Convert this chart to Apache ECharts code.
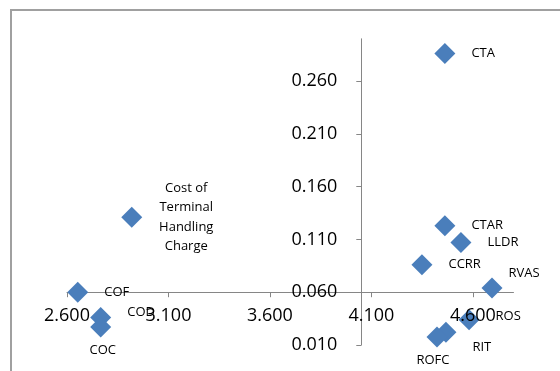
<!DOCTYPE html>
<html>
<head>
<meta charset="utf-8">
<script src="https://cdn.jsdelivr.net/npm/echarts@6/dist/echarts.min.js"></script>
<style>
  html, body { margin: 0; padding: 0; background: #fff; }
  #chart { width: 560px; height: 371px; }
</style>
</head>
<body>
<div id="chart"></div>
<script>
// Cost factors plotted against their two scores
const names = ['CTA', 'CTAR', 'LLDR', 'CCRR', 'RVAS', 'ROS', 'RIT', 'ROFC',
  'Cost of\nTerminal\nHandling\nCharge', 'COF', 'COD', 'COC'];
const xValues = [4.462, 4.462, 4.541, 4.349, 4.694, 4.581, 4.467, 4.423, 2.919, 2.653, 2.766, 2.766];
const yValues = [0.286, 0.123, 0.107, 0.086, 0.064, 0.034, 0.022, 0.0175, 0.131, 0.060, 0.036, 0.027];

const xTicks = [2.6, 3.1, 3.6, 4.1, 4.6];
const yTicks = [0.01, 0.06, 0.11, 0.16, 0.21, 0.26];
const xRange = [2.6, 4.8];
const yRange = [0.01, 0.30];
const xCross = 4.05;   // vertical axis crosses the horizontal one here
const yCross = 0.06;   // horizontal axis crosses the vertical one here

// Label placement tweaks per point (everything else sits to the right)
const labelTweaks = {
  'RVAS': { offset: [-10, -15] },
  'ROS': { offset: [0, -3] },
  'RIT': { offset: [0, 15] },
  'ROFC': { position: 'bottom', distance: 6, offset: [-4, 0] },
  'COC': { position: 'bottom', distance: 6, offset: [2, 0] },
  'COD': { offset: [0, -5] },
  'Cost of\nTerminal\nHandling\nCharge': { align: 'center', offset: [28, 0], lineHeight: 19.5 }
};

const FONT = '"Open Sans", "Liberation Sans", sans-serif';
const AXIS_COLOR = '#868686';
const fmt = v => v.toFixed(3);

const points = names.map((n, i) => ({
  name: n,
  value: [xValues[i], yValues[i]],
  label: Object.assign({}, labelTweaks[n] || {})
}));

const chart = echarts.init(document.getElementById('chart'), null, { renderer: 'canvas' });

const lineAxisCommon = {
  type: 'value',
  splitLine: { show: false },
  axisLine: { show: true, onZero: false, lineStyle: { color: AXIS_COLOR, width: 1 } },
  axisLabel: { show: false },
  z: 0
};
const labelAxisCommon = {
  type: 'value',
  splitLine: { show: false },
  axisLine: { show: false, onZero: false },
  axisTick: { show: false },
  z: 10
};

chart.setOption({
  animation: false,
  backgroundColor: '#fff',
  grid: {
    left: 67, right: 46.5, top: 38.8, bottom: 26,
    containLabel: false,
    outerBoundsMode: 'none'
  },
  graphic: [{
    type: 'rect',
    shape: { x: 11, y: 10, width: 700, height: 500 },
    style: { fill: 'none', stroke: '#a0a0a0', lineWidth: 2 },
    silent: true
  }],
  xAxis: [
    Object.assign({}, lineAxisCommon, {
      min: xRange[0], max: xRange[1], position: 'bottom',
      axisTick: { show: true, customValues: xTicks, length: 5, lineStyle: { color: AXIS_COLOR } }
    }),
    Object.assign({}, labelAxisCommon, {
      min: xRange[0], max: xRange[1], position: 'bottom',
      axisLabel: { customValues: xTicks, formatter: fmt, fontSize: 18, color: '#000', fontFamily: FONT, margin: 15 }
    })
  ],
  yAxis: [
    Object.assign({}, lineAxisCommon, {
      min: yRange[0], max: yRange[1], position: 'left',
      axisTick: { show: true, customValues: yTicks, length: 5, lineStyle: { color: AXIS_COLOR } }
    }),
    Object.assign({}, labelAxisCommon, {
      min: yRange[0], max: yRange[1], position: 'left',
      axisLabel: { customValues: yTicks, formatter: fmt, fontSize: 18, color: '#000', fontFamily: FONT, margin: 24 }
    })
  ],
  series: [{
    type: 'scatter',
    xAxisIndex: 0,
    yAxisIndex: 0,
    symbol: 'diamond',
    symbolSize: 21,
    itemStyle: { color: '#4a7ebb', opacity: 1 },
    label: {
      show: true,
      position: 'right',
      distance: 16,
      formatter: p => p.name,
      fontSize: 13,
      fontFamily: FONT,
      color: '#000'
    },
    data: points
  }]
});

// Move the axes so they cross each other at (xCross, yCross)
const origin = chart.convertToPixel({ seriesIndex: 0 }, [xRange[0], yRange[0]]);
const cross = chart.convertToPixel({ seriesIndex: 0 }, [xCross, yCross]);
const xOffset = cross[1] - origin[1];
const yOffset = origin[0] - cross[0];
chart.setOption({
  xAxis: [{ offset: xOffset }, { offset: xOffset }],
  yAxis: [{ offset: yOffset }, { offset: yOffset }]
});
</script>
</body>
</html>
